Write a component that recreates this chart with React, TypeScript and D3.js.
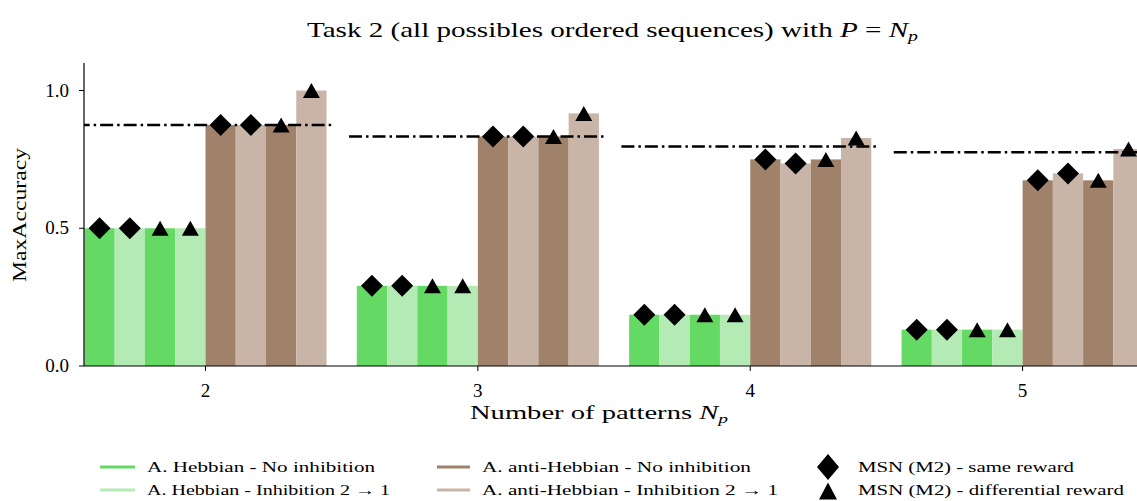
import React from "react";
import * as d3 from "d3";

const categories = [2, 3, 4, 5];
const hebNoSame = [0.5, 0.291, 0.186, 0.132];
const hebInhSame = [0.5, 0.291, 0.186, 0.132];
const hebNoDiff = [0.5, 0.291, 0.186, 0.132];
const hebInhDiff = [0.5, 0.291, 0.186, 0.132];
const antiNoSame = [0.875, 0.833, 0.75, 0.674];
const antiInhSame = [0.875, 0.833, 0.735, 0.699];
const antiNoDiff = [0.875, 0.833, 0.75, 0.674];
const antiInhDiff = [1.0, 0.917, 0.828, 0.788];
const reference = [0.875, 0.833, 0.797, 0.776];
const yTicks = [0, 0.5, 1.0];

const C_HEB = "#64d964";
const C_HEB_INH = "#b4ebb4";
const C_ANTI = "#a0826a";
const C_ANTI_INH = "#c8b5a8";

const series = [
  { values: hebNoSame, color: C_HEB, marker: "D" },
  { values: hebInhSame, color: C_HEB_INH, marker: "D" },
  { values: hebNoDiff, color: C_HEB, marker: "^" },
  { values: hebInhDiff, color: C_HEB_INH, marker: "^" },
  { values: antiNoSame, color: C_ANTI, marker: "D" },
  { values: antiInhSame, color: C_ANTI_INH, marker: "D" },
  { values: antiNoDiff, color: C_ANTI, marker: "^" },
  { values: antiInhDiff, color: C_ANTI_INH, marker: "^" },
];

const W = 1137;
const H = 501;
const left = 84;
const bottom = 366;
const top = 63;
const FONT = "'Liberation Serif'";

export default function App() {
  const x = d3.scaleLinear().domain([1.554, 5.42]).range([left, W]);
  const y = d3.scaleLinear().domain([0, 1.1]).range([bottom, top]);
  const bw = 1 / 9;
  const pxW = x(bw) - x(0);

  const diamond = (cx: number, cy: number, rx: number, ry: number) =>
    `M${cx},${cy - ry}L${cx + rx},${cy}L${cx},${cy + ry}L${cx - rx},${cy}Z`;
  const tri = (cx: number, cy: number, w: number, h: number) =>
    `M${cx},${cy - h / 2}L${cx + w / 2},${cy + h / 2}L${cx - w / 2},${cy + h / 2}Z`;

  const line = d3.line<[number, number]>().x((d) => d[0]).y((d) => d[1]);
  const ts = { fontFamily: FONT };

  return (
    <svg width={W} height={H} style={{ position: "absolute", left: 0, top: 0, background: "#fff", fontFamily: FONT }}>
      <defs>
        <clipPath id="plot">
          <rect x={left} y={0} width={W - left} height={bottom} />
        </clipPath>
      </defs>
      <text x={307} y={37} style={ts} fontSize={22} textLength={611} lengthAdjust="spacingAndGlyphs">
        Task 2 (all possibles ordered sequences) with <tspan fontStyle="italic">P</tspan> = <tspan fontStyle="italic">N</tspan>
        <tspan fontStyle="italic" fontSize={15} dy={4}>p</tspan>
      </text>

      <g clipPath="url(#plot)">
        {series.map((s, si) =>
          categories.map((c, ci) => {
            const x0 = x(c + (si - 4) * bw);
            return (
              <rect key={`b${si}-${ci}`} x={x0} y={y(s.values[ci])} width={pxW} height={bottom - y(s.values[ci])} fill={s.color} />
            );
          })
        )}
        {categories.map((c, ci) => (
          <path
            key={`l${ci}`}
            d={line([[x(c - 0.473), y(reference[ci])], [x(c + 0.473), y(reference[ci])]]) || ""}
            stroke="#000"
            strokeWidth={2.5}
            strokeDasharray="13,4,2.5,4"
            fill="none"
          />
        ))}
        {series.map((s, si) =>
          categories.map((c, ci) => {
            const cx = x(c + (si - 4) * bw + bw / 2);
            const cy = y(s.values[ci]);
            return (
              <path
                key={`m${si}-${ci}`}
                d={s.marker === "D" ? diamond(cx, cy, 11, 11) : tri(cx, cy, 17, 15)}
                fill="#000"
              />
            );
          })
        )}
      </g>

      {/* axes */}
      <line x1={left} x2={left} y1={top} y2={bottom} stroke="#000" strokeWidth={1.2} />
      <line x1={left} x2={W} y1={bottom} y2={bottom} stroke="#000" strokeWidth={1.2} />
      {yTicks.map((t) => (
        <g key={`yt${t}`}>
          <line x1={left - 5} x2={left} y1={y(t)} y2={y(t)} stroke="#000" strokeWidth={1} />
          <text x={69} y={y(t) + 6} textAnchor="end" style={ts} fontSize={19}>
            {t.toFixed(1)}
          </text>
        </g>
      ))}
      {categories.map((c) => (
        <g key={`xt${c}`}>
          <line x1={x(c)} x2={x(c)} y1={bottom} y2={bottom + 5} stroke="#000" strokeWidth={1} />
          <text x={x(c)} y={397} textAnchor="middle" style={ts} fontSize={19}>
            {c}
          </text>
        </g>
      ))}
      <text
        transform="translate(26,215) rotate(-90)"
        textAnchor="middle"
        style={ts}
        fontSize={19}
        textLength={134}
        lengthAdjust="spacingAndGlyphs"
      >
        MaxAccuracy
      </text>
      <text x={470} y={419} style={ts} fontSize={19} textLength={258} lengthAdjust="spacingAndGlyphs">
        Number of patterns <tspan fontStyle="italic">N</tspan>
        <tspan fontStyle="italic" fontSize={13} dy={4}>p</tspan>
      </text>

      {/* legend */}
      <g style={ts} fontSize={15}>
        <line x1={100} x2={135} y1={467} y2={467} stroke={C_HEB} strokeWidth={3} />
        <text x={147} y={472} textLength={228} lengthAdjust="spacingAndGlyphs">A. Hebbian - No inhibition</text>
        <line x1={100} x2={135} y1={490} y2={490} stroke={C_HEB_INH} strokeWidth={3} />
        <text x={147} y={495} textLength={243} lengthAdjust="spacingAndGlyphs">A. Hebbian - Inhibition 2 → 1</text>

        <line x1={437} x2={470} y1={467} y2={467} stroke={C_ANTI} strokeWidth={3} />
        <text x={482} y={472} textLength={269} lengthAdjust="spacingAndGlyphs">A. anti-Hebbian - No inhibition</text>
        <line x1={437} x2={470} y1={490} y2={490} stroke={C_ANTI_INH} strokeWidth={3} />
        <text x={482} y={495} textLength={296} lengthAdjust="spacingAndGlyphs">A. anti-Hebbian - Inhibition 2 → 1</text>

        <path d={diamond(828, 467, 11, 13)} fill="#000" />
        <text x={858} y={472} textLength={216} lengthAdjust="spacingAndGlyphs">MSN (M2) - same reward</text>
        <path d={tri(828, 491, 18, 17)} fill="#000" />
        <text x={858} y={495} textLength={266} lengthAdjust="spacingAndGlyphs">MSN (M2) - differential reward</text>
      </g>
    </svg>
  );
}
